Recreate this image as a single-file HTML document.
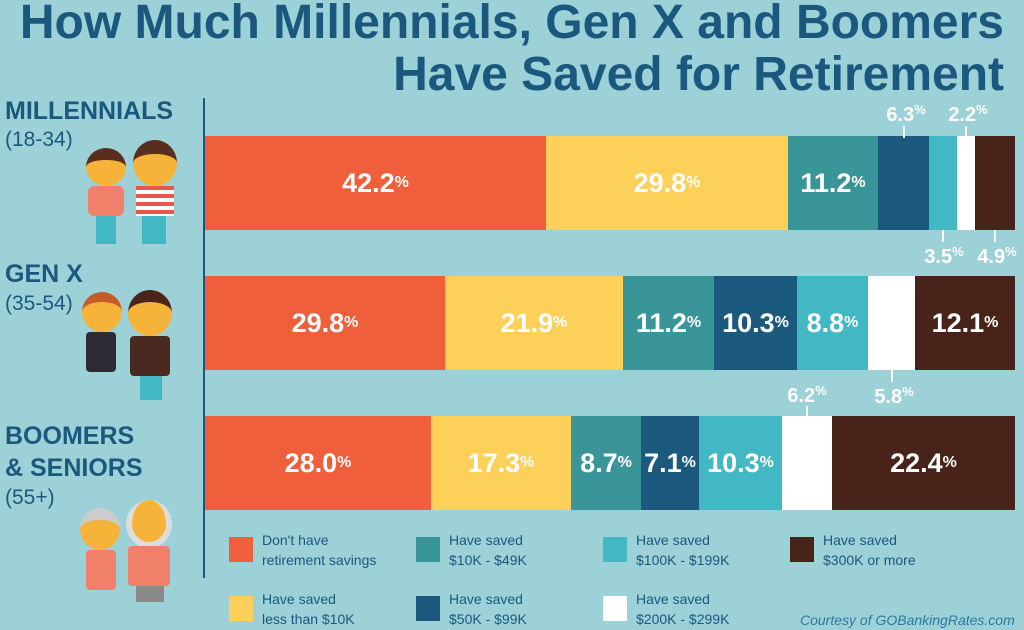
<!DOCTYPE html>
<html><head><meta charset="utf-8"><style>
*{margin:0;padding:0;box-sizing:border-box}
body{width:1024px;height:630px;overflow:hidden;background:#9dd1d8;font-family:"Liberation Sans",sans-serif;position:relative}
.t{position:absolute;color:#1a587e;font-weight:bold;white-space:nowrap}
.bar{position:absolute;height:94px;display:flex;align-items:center;justify-content:center;color:#fff;font-weight:bold;font-size:27px}
sup,.p{font-size:16px;vertical-align:10px}
.lab{position:absolute;color:#fff;font-weight:bold;font-size:20px;white-space:nowrap;transform:translateX(-50%)}
.lab .p{font-size:13px;vertical-align:7px}
.tk{position:absolute;width:2px;background:#fff;height:12px}
.sq{position:absolute;width:24px;height:25px}
.lt{position:absolute;color:#1a587e;font-size:14px;line-height:20px}
</style></head><body>
<div class="t" style="right:20px;top:-3px;font-size:48px;line-height:52px">How Much Millennials, Gen X and Boomers</div>
<div class="t" style="right:20px;top:49px;font-size:48px;line-height:52px">Have Saved for Retirement</div>
<div style="position:absolute;left:203px;top:98px;width:2px;height:480px;background:#1a587e"></div>

<div class="t" style="left:5px;top:97px;font-size:25px">MILLENNIALS</div>
<div class="t" style="left:5px;top:128px;font-size:21px;font-weight:normal">(18-34)</div>
<div class="t" style="left:5px;top:260px;font-size:25px">GEN X</div>
<div class="t" style="left:5px;top:292px;font-size:21px;font-weight:normal">(35-54)</div>
<div class="t" style="left:5px;top:422px;font-size:25px">BOOMERS</div>
<div class="t" style="left:5px;top:454px;font-size:25px">&amp; SENIORS</div>
<div class="t" style="left:5px;top:486px;font-size:21px;font-weight:normal">(55+)</div>

<!-- simple figures -->
<div style="position:absolute;left:86px;top:148px;width:40px;height:38px;border-radius:50%;background:#f6b33a;border-top:12px solid #5a2e1f"></div>
<div style="position:absolute;left:88px;top:186px;width:36px;height:30px;background:#f0806a;border-radius:6px"></div>
<div style="position:absolute;left:96px;top:216px;width:20px;height:28px;background:#42b8c5"></div>
<div style="position:absolute;left:133px;top:140px;width:44px;height:46px;border-radius:50%;background:#f6b33a;border-top:14px solid #5a2e1f"></div>
<div style="position:absolute;left:136px;top:186px;width:38px;height:30px;background:repeating-linear-gradient(#e9574a 0 4px,#fff 4px 8px)"></div>
<div style="position:absolute;left:142px;top:216px;width:24px;height:28px;background:#42b8c5"></div>

<div style="position:absolute;left:82px;top:292px;width:40px;height:40px;border-radius:50%;background:#f6b33a;border-top:10px solid #c65b2a"></div>
<div style="position:absolute;left:86px;top:332px;width:30px;height:40px;background:#2d2a33;border-radius:4px"></div>
<div style="position:absolute;left:128px;top:290px;width:44px;height:46px;border-radius:50%;background:#f6b33a;border-top:12px solid #4a2418"></div>
<div style="position:absolute;left:130px;top:336px;width:40px;height:40px;background:#4a2a20;border-radius:4px"></div>
<div style="position:absolute;left:140px;top:376px;width:22px;height:24px;background:#42b8c5"></div>

<div style="position:absolute;left:80px;top:508px;width:40px;height:42px;border-radius:50%;background:#f6b33a;border-top:12px solid #ccc"></div>
<div style="position:absolute;left:86px;top:550px;width:30px;height:40px;background:#f0806a;border-radius:4px"></div>
<div style="position:absolute;left:126px;top:500px;width:46px;height:48px;border-radius:50%;background:#f6b33a;border:6px solid #ddd;border-top:none"></div>
<div style="position:absolute;left:128px;top:546px;width:42px;height:40px;background:#f0806a;border-radius:4px"></div>
<div style="position:absolute;left:136px;top:586px;width:28px;height:16px;background:#8a8a8a"></div>

<!-- row 1 -->
<div class="bar" style="top:136px;left:205px;width:341px;background:#ef5f3c">42.2<sup>%</sup></div>
<div class="bar" style="top:136px;left:546px;width:242px;background:#fdd05a">29.8<sup>%</sup></div>
<div class="bar" style="top:136px;left:788px;width:90px;background:#3a9598">11.2<sup>%</sup></div>
<div class="bar" style="top:136px;left:878px;width:51px;background:#1b5a7e"></div>
<div class="bar" style="top:136px;left:929px;width:28px;background:#42b8c5"></div>
<div class="bar" style="top:136px;left:957px;width:18px;background:#fff"></div>
<div class="bar" style="top:136px;left:975px;width:40px;background:#48231a"></div>
<div class="lab" style="left:906px;top:102px">6.3<span class="p">%</span></div><div class="tk" style="left:903px;top:126px"></div>
<div class="lab" style="left:968px;top:102px">2.2<span class="p">%</span></div><div class="tk" style="left:965px;top:126px"></div>
<div class="tk" style="left:942px;top:230px"></div><div class="lab" style="left:944px;top:244px">3.5<span class="p">%</span></div>
<div class="tk" style="left:994px;top:230px"></div><div class="lab" style="left:997px;top:244px">4.9<span class="p">%</span></div>

<!-- row 2 -->
<div class="bar" style="top:276px;left:205px;width:240px;background:#ef5f3c">29.8<sup>%</sup></div>
<div class="bar" style="top:276px;left:445px;width:178px;background:#fdd05a">21.9<sup>%</sup></div>
<div class="bar" style="top:276px;left:623px;width:91px;background:#3a9598">11.2<sup>%</sup></div>
<div class="bar" style="top:276px;left:714px;width:83px;background:#1b5a7e">10.3<sup>%</sup></div>
<div class="bar" style="top:276px;left:797px;width:71px;background:#42b8c5">8.8<sup>%</sup></div>
<div class="bar" style="top:276px;left:868px;width:47px;background:#fff"></div>
<div class="bar" style="top:276px;left:915px;width:100px;background:#48231a">12.1<sup>%</sup></div>
<div class="tk" style="left:891px;top:370px"></div><div class="lab" style="left:894px;top:384px">5.8<span class="p">%</span></div>

<!-- row 3 -->
<div class="bar" style="top:416px;left:205px;width:226px;background:#ef5f3c">28.0<sup>%</sup></div>
<div class="bar" style="top:416px;left:431px;width:140px;background:#fdd05a">17.3<sup>%</sup></div>
<div class="bar" style="top:416px;left:571px;width:70px;background:#3a9598">8.7<sup>%</sup></div>
<div class="bar" style="top:416px;left:641px;width:58px;background:#1b5a7e">7.1<sup>%</sup></div>
<div class="bar" style="top:416px;left:699px;width:83px;background:#42b8c5">10.3<sup>%</sup></div>
<div class="bar" style="top:416px;left:782px;width:50px;background:#fff"></div>
<div class="bar" style="top:416px;left:832px;width:183px;background:#48231a">22.4<sup>%</sup></div>
<div class="lab" style="left:807px;top:383px">6.2<span class="p">%</span></div><div class="tk" style="left:806px;top:406px"></div>

<!-- legend -->
<div class="sq" style="left:229px;top:537px;background:#ef5f3c"></div><div class="lt" style="left:262px;top:530px">Don't have<br>retirement savings</div>
<div class="sq" style="left:416px;top:537px;background:#3a9598"></div><div class="lt" style="left:449px;top:530px">Have saved<br>$10K - $49K</div>
<div class="sq" style="left:603px;top:537px;background:#42b8c5"></div><div class="lt" style="left:636px;top:530px">Have saved<br>$100K - $199K</div>
<div class="sq" style="left:790px;top:537px;background:#48231a"></div><div class="lt" style="left:823px;top:530px">Have saved<br>$300K or more</div>
<div class="sq" style="left:229px;top:596px;background:#fdd05a"></div><div class="lt" style="left:262px;top:589px">Have saved<br>less than $10K</div>
<div class="sq" style="left:416px;top:596px;background:#1b5a7e"></div><div class="lt" style="left:449px;top:589px">Have saved<br>$50K - $99K</div>
<div class="sq" style="left:603px;top:596px;background:#fff"></div><div class="lt" style="left:636px;top:589px">Have saved<br>$200K - $299K</div>
<div class="lt" style="left:800px;top:610px;font-style:italic;color:#2a7aa0">Courtesy of GOBankingRates.com</div>
</body></html>
